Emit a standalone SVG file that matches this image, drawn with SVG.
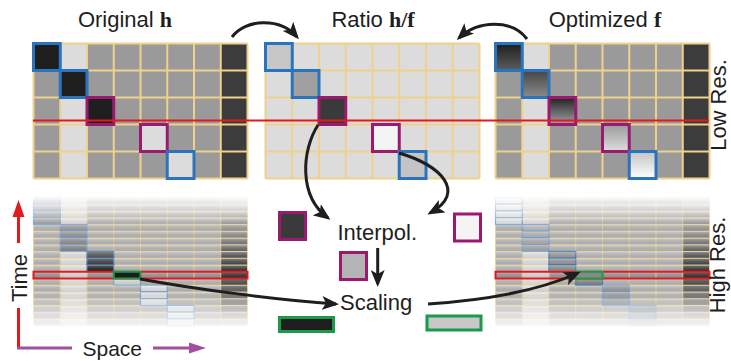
<svg xmlns="http://www.w3.org/2000/svg" xmlns:xlink="http://www.w3.org/1999/xlink" width="731" height="361" viewBox="0 0 731 361">
<style>
.t{font-family:"Liberation Sans",Arial,sans-serif;font-size:22px;fill:#1e1e1e}
.b{font-family:"Liberation Serif","Times New Roman",serif;font-weight:bold}
.tg{fill:none;stroke:#eed28c;stroke-width:2}
.hg{fill:none;stroke:#f0d89a;stroke-width:1}
.hb{stroke:#2a74bd;stroke-width:3}
.hp{stroke:#9b1a70;stroke-width:3}
.lb{stroke:#7ea8d6;stroke-width:1.2}
.ldb{stroke:#4a7fbb;stroke-width:1.2}
.gr{stroke:#1a9a4a;stroke-width:2}
.con{fill:none;stroke:#1e1e1e;stroke-width:3}
</style>
<defs>
<marker id="ah" markerUnits="userSpaceOnUse" markerWidth="18" markerHeight="14" refX="14" refY="7" orient="auto" viewBox="0 0 18 14">
<path d="M0 0 L17 7 L0 14 L4 7 Z" fill="#1e1e1e"/>
</marker>
<path id="tgrid" class="tg" d="M0 0V135M26.75 0V135M53.5 0V135M80.25 0V135M107 0V135M133.75 0V135M160.5 0V135M187.25 0V135M214 0V135M0 0H214M0 27H214M0 54H214M0 81H214M0 108H214M0 135H214"/>
<path id="hgrid" class="hg" d="M0 0V128.25M26.75 0V128.25M53.5 0V128.25M80.25 0V128.25M107 0V128.25M133.75 0V128.25M160.5 0V128.25M187.25 0V128.25M214 0V128.25M0 0H214M0 6.75H214M0 13.5H214M0 20.25H214M0 27H214M0 33.75H214M0 40.5H214M0 47.25H214M0 54H214M0 60.75H214M0 67.5H214M0 74.25H214M0 81H214M0 87.75H214M0 94.5H214M0 101.25H214M0 108H214M0 114.75H214M0 121.5H214M0 128.25H214"/>
<linearGradient id="g1" x1="0" y1="0" x2="0" y2="1"><stop offset="0" stop-color="#1e1e1e"/><stop offset="1" stop-color="#5c5c5c"/></linearGradient>
<linearGradient id="g2" x1="0" y1="0" x2="0" y2="1"><stop offset="0" stop-color="#444"/><stop offset="1" stop-color="#8c8c8c"/></linearGradient>
<linearGradient id="g3" x1="0" y1="0" x2="0" y2="1"><stop offset="0" stop-color="#222"/><stop offset="1" stop-color="#a2a2a2"/></linearGradient>
<linearGradient id="g4" x1="0" y1="0" x2="0" y2="1"><stop offset="0" stop-color="#9a9a9a"/><stop offset="1" stop-color="#dedede"/></linearGradient>
<linearGradient id="g5" x1="0" y1="0" x2="0" y2="1"><stop offset="0" stop-color="#c4c4c4"/><stop offset="1" stop-color="#fff"/></linearGradient>
<linearGradient id="dcol" x1="0" y1="0" x2="0" y2="1"><stop offset="0" stop-color="#d4d4d4"/><stop offset="0.3" stop-color="#949494"/><stop offset="0.58" stop-color="#343434"/><stop offset="0.8" stop-color="#848484"/><stop offset="1" stop-color="#d0d0d0"/></linearGradient>
<linearGradient id="stripe" x1="0" y1="0" x2="0" y2="1"><stop offset="0" stop-color="#fff" stop-opacity="0.3"/><stop offset="1" stop-color="#000" stop-opacity="0.08"/></linearGradient>
<pattern id="rows" patternUnits="userSpaceOnUse" x="0" y="197.5" width="20" height="6.75"><rect width="20" height="6.75" fill="url(#stripe)"/></pattern>
<linearGradient id="fade" gradientUnits="userSpaceOnUse" x1="0" y1="194" x2="0" y2="331"><stop offset="0" stop-color="#000"/><stop offset="0.22" stop-color="#fff"/><stop offset="0.74" stop-color="#fff"/><stop offset="1" stop-color="#000"/></linearGradient>
<mask id="fm" maskUnits="userSpaceOnUse" x="0" y="190" width="731" height="145"><rect x="0" y="190" width="731" height="145" fill="url(#fade)"/></mask>
</defs>
<rect width="731" height="361" fill="#fff"/>

<g id="title-original"><text class="t" x="125" y="27" text-anchor="middle">Original <tspan class="b">h</tspan></text></g>
<g id="title-ratio"><text class="t" x="373" y="27" text-anchor="middle">Ratio <tspan class="b">h/f</tspan></text></g>
<g id="title-optimized"><text class="t" x="605" y="27" text-anchor="middle">Optimized <tspan class="b">f</tspan></text></g>

<g id="grid-original-low">
<rect x="33.5" y="43.5" width="26.75" height="135" fill="#9a9a9a"/>
<rect x="60.25" y="43.5" width="26.75" height="135" fill="#dcdcdc"/>
<rect x="87" y="43.5" width="133.75" height="135" fill="#9a9a9a"/>
<rect x="220.75" y="43.5" width="26.75" height="135" fill="#3c3c3c"/>
<use href="#tgrid" x="33.5" y="43.5"/>
<rect class="hb" x="33.5" y="43.5" width="26.75" height="27" fill="#1e1e1e"/>
<rect class="hb" x="60.25" y="70.5" width="26.75" height="27" fill="#1e1e1e"/>
<rect class="hp" x="87" y="97.5" width="26.75" height="27" fill="#1e1e1e"/>
<rect class="hp" x="140.5" y="124.5" width="26.75" height="27" fill="#dcdcdc"/>
<rect class="hb" x="167.25" y="151.5" width="26.75" height="27" fill="#dcdcdc"/>
</g>

<g id="grid-ratio-low">
<rect x="265.5" y="43.5" width="214" height="135" fill="#dcdcdc"/>
<use href="#tgrid" x="265.5" y="43.5"/>
<rect class="hb" x="265.5" y="43.5" width="26.75" height="27" fill="#c6c6c6"/>
<rect class="hb" x="292.25" y="70.5" width="26.75" height="27" fill="#a0a0a0"/>
<rect class="hp" x="319" y="97.5" width="26.75" height="27" fill="#3a3a3a"/>
<rect class="hp" x="372.5" y="124.5" width="26.75" height="27" fill="#f4f4f4"/>
<rect class="hb" x="399.25" y="151.5" width="26.75" height="27" fill="#c4c4c4"/>
</g>

<g id="grid-optimized-low">
<rect x="495.5" y="43.5" width="26.75" height="135" fill="#9a9a9a"/>
<rect x="522.25" y="43.5" width="26.75" height="135" fill="#dcdcdc"/>
<rect x="549" y="43.5" width="133.75" height="135" fill="#9a9a9a"/>
<rect x="682.75" y="43.5" width="26.75" height="135" fill="#3c3c3c"/>
<use href="#tgrid" x="495.5" y="43.5"/>
<rect class="hb" x="495.5" y="43.5" width="26.75" height="27" fill="url(#g1)"/>
<rect class="hb" x="522.25" y="70.5" width="26.75" height="27" fill="url(#g2)"/>
<rect class="hp" x="549" y="97.5" width="26.75" height="27" fill="url(#g3)"/>
<rect class="hp" x="602.5" y="124.5" width="26.75" height="27" fill="url(#g4)"/>
<rect class="hb" x="629.25" y="151.5" width="26.75" height="27" fill="url(#g5)"/>
</g>

<g id="time-line-low"><line x1="33" y1="120.5" x2="709" y2="120.5" stroke="#e3191f" stroke-width="2"/></g>

<g id="grid-original-high" mask="url(#fm)">
<rect x="33.5" y="197.5" width="26.75" height="128.25" fill="#bebebe"/>
<rect x="60.25" y="197.5" width="26.75" height="128.25" fill="#ececec"/>
<rect x="87" y="197.5" width="133.75" height="128.25" fill="#bebebe"/>
<rect x="220.75" y="197.5" width="26.75" height="128.25" fill="url(#dcol)"/>
<rect x="33.5" y="271.75" width="26.75" height="6.75" fill="#9c9c9c"/>
<rect x="60.25" y="271.75" width="26.75" height="6.75" fill="#e0e0e0"/>
<rect x="87" y="271.75" width="133.75" height="6.75" fill="#9c9c9c"/>
<rect x="220.75" y="271.75" width="26.75" height="6.75" fill="#333"/>
<use href="#hgrid" x="33.5" y="197.5"/>
<rect class="lb" x="33.5" y="197.5" width="26.75" height="6.75" fill="#b4b4b4"/>
<rect class="lb" x="33.5" y="204.25" width="26.75" height="6.75" fill="#b4b4b4"/>
<rect class="lb" x="33.5" y="211" width="26.75" height="6.75" fill="#b0b0b0"/>
<rect class="lb" x="33.5" y="217.75" width="26.75" height="6.75" fill="#acacac"/>
<rect class="lb" x="60.25" y="224.5" width="26.75" height="6.75" fill="#a4a4a4"/>
<rect class="lb" x="60.25" y="231.25" width="26.75" height="6.75" fill="#9c9c9c"/>
<rect class="lb" x="60.25" y="238" width="26.75" height="6.75" fill="#949494"/>
<rect class="lb" x="60.25" y="244.75" width="26.75" height="6.75" fill="#8c8c8c"/>
<rect class="ldb" x="87" y="251.5" width="26.75" height="6.75" fill="#5c5c5c"/>
<rect class="ldb" x="87" y="258.25" width="26.75" height="6.75" fill="#444"/>
<rect class="ldb" x="87" y="265" width="26.75" height="6.75" fill="#262626"/>
<rect class="lb" x="113.75" y="278.5" width="26.75" height="6.75" fill="#e2e2e2"/>
<rect class="lb" x="140.5" y="285.25" width="26.75" height="6.75" fill="#eeeeee"/>
<rect class="lb" x="140.5" y="292" width="26.75" height="6.75" fill="#eeeeee"/>
<rect class="lb" x="140.5" y="298.75" width="26.75" height="6.75" fill="#eeeeee"/>
<rect class="lb" x="167.25" y="305.5" width="26.75" height="6.75" fill="#f2f2f2"/>
<rect class="lb" x="167.25" y="312.25" width="26.75" height="6.75" fill="#f2f2f2"/>
<rect class="lb" x="167.25" y="319" width="26.75" height="6.75" fill="#f2f2f2"/>
<rect x="33.5" y="197.5" width="214" height="128.25" fill="url(#rows)"/>
<rect x="33.5" y="271.75" width="214" height="6.75" fill="none" stroke="#e3191f" stroke-width="2"/>
<rect class="gr" x="113.75" y="271.75" width="26.75" height="6.75" fill="#1c1c1c"/>
</g>

<g id="grid-optimized-high" mask="url(#fm)">
<rect x="495.5" y="197.5" width="26.75" height="128.25" fill="#bebebe"/>
<rect x="522.25" y="197.5" width="26.75" height="128.25" fill="#ececec"/>
<rect x="549" y="197.5" width="133.75" height="128.25" fill="#bebebe"/>
<rect x="682.75" y="197.5" width="26.75" height="128.25" fill="url(#dcol)"/>
<rect x="495.5" y="271.75" width="26.75" height="6.75" fill="#9c9c9c"/>
<rect x="522.25" y="271.75" width="26.75" height="6.75" fill="#e0e0e0"/>
<rect x="549" y="271.75" width="133.75" height="6.75" fill="#9c9c9c"/>
<rect x="682.75" y="271.75" width="26.75" height="6.75" fill="#333"/>
<use href="#hgrid" x="495.5" y="197.5"/>
<rect class="lb" x="495.5" y="197.5" width="26.75" height="6.75" fill="#f4f4f4"/>
<rect class="lb" x="495.5" y="204.25" width="26.75" height="6.75" fill="#f4f4f4"/>
<rect class="lb" x="495.5" y="211" width="26.75" height="6.75" fill="#f2f2f2"/>
<rect class="lb" x="495.5" y="217.75" width="26.75" height="6.75" fill="#f0f0f0"/>
<rect class="lb" x="522.25" y="224.5" width="26.75" height="6.75" fill="#c4c4c4"/>
<rect class="lb" x="522.25" y="231.25" width="26.75" height="6.75" fill="#bcbcbc"/>
<rect class="lb" x="522.25" y="238" width="26.75" height="6.75" fill="#b4b4b4"/>
<rect class="lb" x="522.25" y="244.75" width="26.75" height="6.75" fill="#acacac"/>
<rect class="ldb" x="549" y="251.5" width="26.75" height="6.75" fill="#a4a4a4"/>
<rect class="ldb" x="549" y="258.25" width="26.75" height="6.75" fill="#9c9c9c"/>
<rect class="ldb" x="549" y="265" width="26.75" height="6.75" fill="#949494"/>
<rect class="ldb" x="575.75" y="278.5" width="26.75" height="6.75" fill="#8c8c8c"/>
<rect class="lb" x="602.5" y="285.25" width="26.75" height="6.75" fill="#a0a0a0"/>
<rect class="lb" x="602.5" y="292" width="26.75" height="6.75" fill="#a4a4a4"/>
<rect class="lb" x="602.5" y="298.75" width="26.75" height="6.75" fill="#a8a8a8"/>
<rect class="lb" x="629.25" y="305.5" width="26.75" height="6.75" fill="#b0b0b0"/>
<rect class="lb" x="629.25" y="312.25" width="26.75" height="6.75" fill="#b4b4b4"/>
<rect class="lb" x="629.25" y="319" width="26.75" height="6.75" fill="#b8b8b8"/>
<rect x="495.5" y="197.5" width="214" height="128.25" fill="url(#rows)"/>
<rect x="495.5" y="271.75" width="214" height="6.75" fill="none" stroke="#e3191f" stroke-width="2"/>
<rect class="gr" x="575.75" y="271.75" width="26.75" height="6.75" fill="#888"/>
</g>

<g id="label-low-res"><text class="t" transform="translate(726,105) rotate(-90)" text-anchor="middle">Low Res.</text></g>
<g id="label-high-res"><text class="t" transform="translate(725,265) rotate(-90)" text-anchor="middle">High Res.</text></g>

<g id="axis-time">
<path d="M18.5 348V308M18.5 243V214" fill="none" stroke="#e3191f" stroke-width="3"/>
<polygon points="18.5,200 12.5,217 24.5,217" fill="#e3191f"/>
<text class="t" transform="translate(26.5,278) rotate(-90)" text-anchor="middle">Time</text>
</g>
<g id="axis-space">
<path d="M17 348H72M153 348H190" fill="none" stroke="#a0509e" stroke-width="3"/>
<polygon points="206,348 189,342.5 189,353.5" fill="#a0509e"/>
<text class="t" x="82.5" y="356" style="font-size:21px">Space</text>
</g>

<g id="node-interpol">
<text class="t" x="337.5" y="239.5">Interpol.</text>
<rect x="279.5" y="212.5" width="26" height="27" fill="#3a3a3a" stroke="#9b1a70" stroke-width="3"/>
<rect x="454.5" y="214" width="26" height="27" fill="#f4f4f4" stroke="#9b1a70" stroke-width="3"/>
<rect x="340.5" y="252.5" width="26" height="27" fill="#b4b4b4" stroke="#9b1a70" stroke-width="3"/>
</g>
<g id="node-scaling">
<text class="t" x="340" y="310">Scaling</text>
<rect x="279.5" y="317.5" width="54" height="14" fill="#1e1e1e" stroke="#1a9a4a" stroke-width="3"/>
<rect x="427" y="316" width="54" height="14" fill="#c8c8c8" stroke="#1a9a4a" stroke-width="3"/>
</g>

<g id="connectors">
<path class="con" marker-end="url(#ah)" d="M232 37C245 19 280 17 297 37"/>
<path class="con" marker-end="url(#ah)" d="M527 39C512 19 478 20 459 38"/>
<path class="con" marker-end="url(#ah)" d="M318 125C302 150 298 196 328 218"/>
<path class="con" marker-end="url(#ah)" d="M399 153C440 165 468 192 430 213"/>
<path class="con" marker-end="url(#ah)" d="M377.7 248V284"/>
<path class="con" marker-end="url(#ah)" d="M140 279C200 290 280 300 336 304"/>
<path class="con" marker-end="url(#ah)" d="M428 304C490 300 540 290 578 273"/>
</g>
</svg>
